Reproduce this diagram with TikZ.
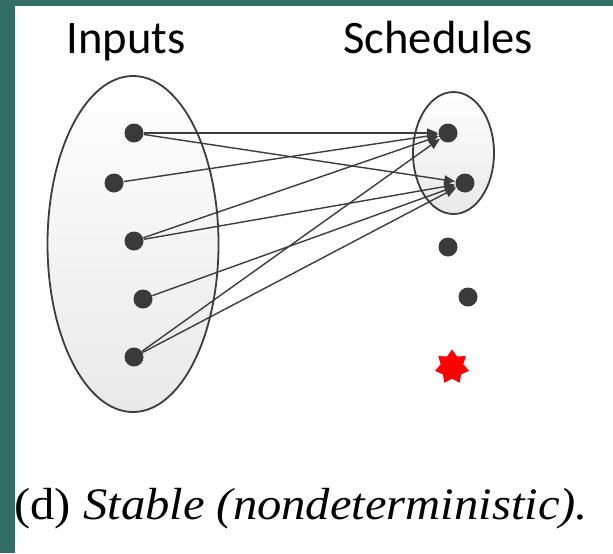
\documentclass[tikz,border=0pt]{standalone}
\usepackage{fontspec}
\setmainfont{Liberation Serif}
\newfontfamily\slidefont{Carlito}
\usetikzlibrary{arrows.meta,shapes.geometric}
\definecolor{slideteal}{RGB}{50,110,100}
\definecolor{dotgray}{RGB}{58,58,58}
\definecolor{linegray}{RGB}{60,60,60}
\definecolor{setgray}{RGB}{233,233,233}

\begin{document}
\begin{tikzpicture}[x=0.5pt,y=-0.5pt,
  dot/.style={circle,fill=dotgray,inner sep=0pt,minimum size=9.5pt},
  setbox/.style={ellipse,draw=linegray,line width=0.9pt,top color=white,bottom color=setgray},
  mapsto/.style={-{Triangle[length=5.5pt,width=4.5pt]},draw=linegray,line width=0.7pt},
  title/.style={font=\slidefont\fontsize{23.3}{28}\selectfont,anchor=base west,inner sep=0pt}]
  \fill[slideteal] (0,0) rectangle (613,553);
  \fill[white] (14.5,6) rectangle (613,553);
  \useasboundingbox (0,0) rectangle (613,553);

  \node[title] (intitle) at (66,53) {Inputs};
  \node[title] (schedtitle) at (343,53) {Schedules};

  \node[setbox,minimum width=85.5pt,minimum height=168pt] (inputset) at (133,244) {};
  \node[setbox,minimum width=40.5pt,minimum height=61pt] (schedset) at (453.5,153) {};

  \node[dot] (in1) at (134,133) {};
  \node[dot] (in2) at (114,183) {};
  \node[dot] (in3) at (134,241) {};
  \node[dot] (in4) at (143,299) {};
  \node[dot] (in5) at (134,357) {};

  \node[dot] (s1) at (448,133) {};
  \node[dot] (s2) at (465,183) {};
  \node[dot] (s3) at (448,247) {};
  \node[dot] (s4) at (468,297) {};
  \node[star,star points=7,star point ratio=1.5,fill=red,inner sep=0pt,minimum size=17.5pt] (bad) at (452,367) {};

  \foreach \a/\b in {in1/s1,in1/s2,in2/s1,in3/s1,in3/s2,in4/s2,in5/s1,in5/s2}
    \draw[mapsto] (\a) -- (\b);

  \node[anchor=base west,inner sep=0pt,xscale=1.08,font=\fontsize{22.5}{27}\selectfont] (caption) at (14,519)
    {(d) \textit{Stable (nondeterministic).}};
\end{tikzpicture}
\end{document}
